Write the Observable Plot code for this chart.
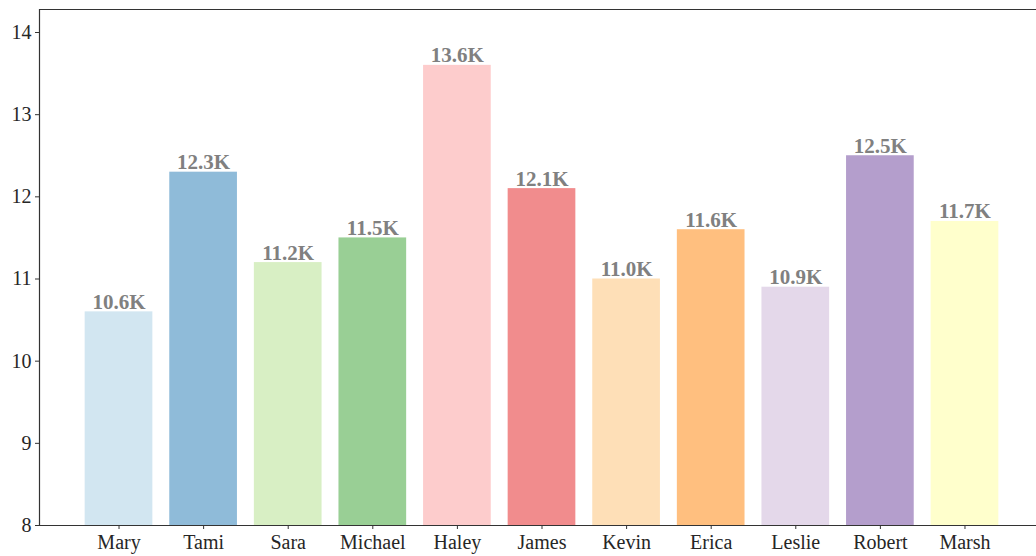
<!DOCTYPE html>
<html>
<head>
<meta charset="utf-8">
<script src="https://cdn.jsdelivr.net/npm/d3@7"></script>
<script src="https://cdn.jsdelivr.net/npm/@observablehq/plot@0.6"></script>
<style>
  html, body { margin: 0; padding: 0; background: #fff; }
</style>
</head>
<body>
<div id="chart"></div>
<script>
const names = ["Mary", "Tami", "Sara", "Michael", "Haley", "James", "Kevin", "Erica", "Leslie", "Robert", "Marsh"];
const values = [10.6, 12.3, 11.2, 11.5, 13.6, 12.1, 11.0, 11.6, 10.9, 12.5, 11.7];
const colors = ["#a6cee3", "#1f78b4", "#b2df8a", "#33a02c", "#fb9a99", "#e31a1c", "#fdbf6f", "#ff7f00", "#cab2d6", "#6a3d9a", "#ffff99"];
const yTicks = [8, 9, 10, 11, 12, 13, 14];

const data = names.map((n, i) => ({name: n, value: values[i], color: colors[i]}));
const yMin = 8, yMax = 14.28;

const chart = Plot.plot({
  width: 1036,
  height: 556,
  marginLeft: 39,
  marginRight: 0,
  marginTop: 9,
  marginBottom: 31,
  style: {fontFamily: "'Liberation Serif', 'DejaVu Serif', serif", fontSize: "20px", color: "#262626", background: "#fff"},
  x: {domain: names, range: [39, 1044], paddingInner: 0.2, paddingOuter: 0.54, round: false, label: null},
  y: {domain: [yMin, yMax], label: null},
  marks: [
    Plot.barY(data, {x: "name", y1: yMin, y2: "value", fill: "color", fillOpacity: 0.5}),
    Plot.text(data, {x: "name", y: "value", text: d => d.value.toFixed(1) + "K", dy: -3, lineAnchor: "bottom", fill: "#808080", fontWeight: "bold", fontSize: 21}),
    Plot.ruleY([yMin, yMax], {stroke: "#333", strokeWidth: 1.2}),
    Plot.frame({anchor: "left", stroke: "#333", strokeWidth: 1.2}),
    Plot.axisY({ticks: yTicks, tickFormat: d => String(d), tickSize: 4, tickPadding: 4, stroke: "#333", fill: "#262626", fontSize: 20}),
    Plot.axisX({tickSize: 4, tickPadding: 5, stroke: "#333", fill: "#262626", fontSize: 20})
  ]
});
document.getElementById("chart").appendChild(chart);
</script>
</body>
</html>
